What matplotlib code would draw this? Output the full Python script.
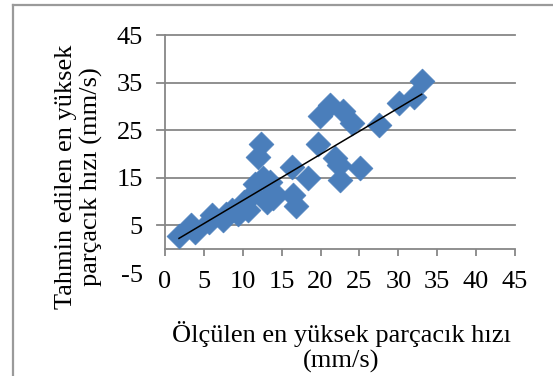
import numpy as np
import matplotlib
matplotlib.use("Agg")
import matplotlib.pyplot as plt
from matplotlib.lines import Line2D

measured = [1.8, 3.3, 3.9, 5.6, 6.1, 7.5, 7.9, 8.6, 9.4, 10.1, 10.7, 11.3, 11.6,
            12.6, 12.0, 12.4, 13.5, 13.9, 13.1, 13.9, 16.3, 16.5, 16.8, 18.4,
            19.7, 19.9, 21.2, 22.9, 24.1, 21.9, 22.4, 22.5, 25.1, 27.5, 30.1,
            32.0, 33.0]
predicted = [2.7, 5.05, 3.6, 5.7, 7.2, 6.1, 7.5, 8.2, 7.5, 10.0, 8.2, 11.7, 13.8,
             14.9, 19.4, 22.2, 14.2, 12.1, 10.0, 10.7, 17.3, 11.4, 9.0, 14.9,
             22.2, 28.0, 30.3, 29.1, 26.5, 19.1, 17.7, 14.5, 17.0, 26.1, 30.8,
             31.9, 35.4]

xticks = [0, 5, 10, 15, 20, 25, 30, 35, 40, 45]
yticks = [-5, 5, 15, 25, 35, 45]
xlabel = "Ölçülen en yüksek parçacık hızı\n(mm/s)"
ylabel = "Tahmin edilen en yüksek\nparçacık hızı (mm/s)"

plt.rcParams['font.family'] = ['Liberation Serif', 'DejaVu Serif']

fig = plt.figure(figsize=(5.53, 3.76), dpi=100)
ax = fig.add_axes([165/553, 1-273/376, 350/553, 238/376])

grid_c = '#878787'
for v in [5, 15, 25, 35, 45]:
    ax.axhline(v, color=grid_c, lw=1.3, zorder=1, clip_on=False)

x = np.array(measured)
y = np.array(predicted)
ax.scatter(x, y, marker='D', s=160, color='#4a7ebb', edgecolors='#4a7ebb',
           linewidths=0.5, zorder=3)
m, b = np.polyfit(x, y, 1)
xs = np.array([x.min(), x.max()])
ax.plot(xs, m*xs + b, color='black', lw=1.1, zorder=4)

ax.set_xlim(0, 45)
ax.set_ylim(-5, 45)
ax.set_xticks(xticks)
ax.set_yticks(yticks)
ax.set_xticklabels([str(t) for t in xticks])
ax.set_yticklabels([str(t) for t in yticks])

for s in ['top', 'right']:
    ax.spines[s].set_visible(False)
ax.spines['bottom'].set_position(('data', 0))
ax.spines['left'].set_bounds(0, 45)
for s in ['bottom', 'left']:
    ax.spines[s].set_color(grid_c)
    ax.spines[s].set_linewidth(1.3)

ax.tick_params(axis='x', direction='out', length=5, width=1.3, color=grid_c,
               labelsize=19, pad=11)
ax.tick_params(axis='y', direction='out', length=0, width=1.3, color=grid_c,
               labelsize=19, pad=16)
for v in [5, 15, 25, 35, 45]:
    ax.plot([-1.0, 0], [v, v], color=grid_c, lw=1.3, clip_on=False, zorder=1)

fig.text(79/553, 1-177/376, ylabel, rotation=90, ha='center', va='center',
         fontsize=19, linespacing=1.2, multialignment='center')
fig.text(341/553, 1-347/376, xlabel, ha='center', va='center',
         fontsize=19, linespacing=1.14, multialignment='center')

fig.add_artist(Line2D([13/553, 13/553], [0, 1-5/376], color='#9a9a9a', lw=1.6,
                      transform=fig.transFigure))
fig.add_artist(Line2D([13/553, 1], [1-5/376, 1-5/376], color='#9a9a9a', lw=1.6,
                      transform=fig.transFigure))

fig.savefig('out.png', dpi=100)
